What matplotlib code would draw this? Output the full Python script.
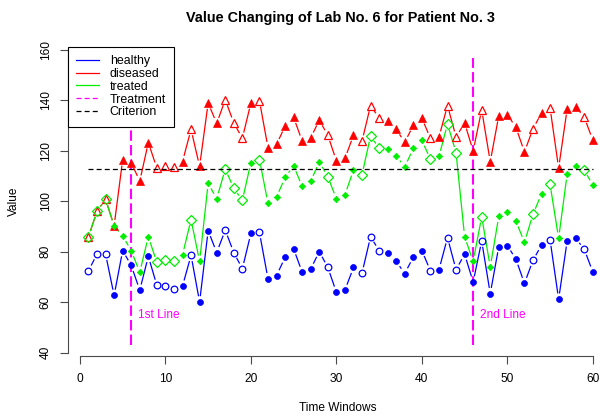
import numpy as np
import matplotlib
matplotlib.use("Agg")
import matplotlib.pyplot as plt
from matplotlib.lines import Line2D

plt.rcParams['font.family'] = ['Liberation Sans', 'DejaVu Sans']

# values
time = list(range(1, 61))
healthy = [72.5, 79.1, 79.1, 62.7, 80.5, 74.6, 64.8, 78.2, 66.7, 66.4,
           65.4, 66.4, 78.6, 60.1, 88.4, 79.7, 88.6, 79.7, 73.3, 87.3,
           87.7, 69.3, 70.6, 77.8, 81.2, 71.9, 73.2, 80.1, 73.8, 64.0,
           64.8, 73.8, 71.6, 86.0, 80.5, 79.5, 76.2, 71.4, 77.9, 80.5,
           72.5, 72.9, 85.6, 72.9, 79.1, 68.0, 84.3, 63.4, 82.1, 82.5,
           77.1, 67.5, 76.6, 82.7, 84.7, 61.2, 84.4, 85.4, 81.0, 72.0]
diseased = [86.0, 96.1, 100.8, 90.3, 116.5, 115.4, 108.0, 123.3, 113.2, 113.9,
            113.7, 115.8, 128.5, 113.9, 139.0, 130.9, 140.3, 131.1, 125.0, 139.0,
            139.9, 121.3, 122.6, 129.8, 133.3, 123.9, 125.2, 132.2, 126.2, 116.1,
            117.0, 126.2, 123.9, 138.0, 133.0, 131.8, 128.5, 123.5, 130.1, 133.0,
            125.0, 125.5, 138.0, 125.5, 131.1, 120.0, 136.3, 115.7, 134.0, 134.4,
            129.4, 119.6, 128.8, 135.0, 137.0, 113.2, 136.7, 137.6, 133.3, 124.3]
treated = [86.0, 96.1, 100.8, 90.3, 86.3, 80.5, 71.9, 86.0, 75.8, 76.9,
           76.2, 78.8, 92.8, 76.2, 107.2, 101.0, 112.8, 105.2, 100.4, 115.4,
           116.6, 99.3, 101.7, 109.5, 114.1, 105.9, 108.0, 115.7, 109.8, 101.0,
           102.6, 112.4, 110.6, 125.9, 121.0, 120.7, 118.0, 113.7, 121.0, 124.2,
           116.7, 117.8, 130.7, 119.3, 86.0, 76.2, 93.9, 74.0, 94.1, 95.6,
           92.2, 83.8, 94.9, 103.0, 106.7, 85.4, 110.9, 114.1, 112.5, 106.3]
# 1 = hollow marker, 0 = solid marker
hollow = [1, 1, 1, 0, 0, 0, 0, 0, 1, 1, 1, 0, 1, 0, 0, 0, 1, 1, 1, 0,
          1, 0, 0, 0, 0, 0, 0, 0, 1, 0, 0, 0, 1, 1, 1, 0, 0, 0, 0, 0,
          1, 0, 1, 1, 0, 0, 1, 0, 0, 0, 0, 0, 1, 0, 1, 0, 0, 0, 1, 0]
treatment_times = [6, 46]
treatment_labels = ["1st Line", "2nd Line"]
criterion = 113

W, H = 600, 417
fig = plt.figure(figsize=(W / 100, H / 100), dpi=100)
# plot region in pixels: left 68.3, right 613, top 47, bottom 356
ax = fig.add_axes([68.3 / W, (H - 356) / H, (613 - 68.3) / W, (356 - 47) / H])
ax.set_xlim(-1.36, 62.36)
ax.set_ylim(38.7, 161.2)
ax.patch.set_alpha(0)

axis_col = '#4a4a4a'
for s in ['top', 'right']:
    ax.spines[s].set_visible(False)
ax.spines['left'].set_bounds(40, 160)
ax.spines['bottom'].set_bounds(0, 60)
for s in ['left', 'bottom']:
    ax.spines[s].set_color(axis_col)
    ax.spines[s].set_linewidth(0.8)
ax.set_xticks(range(0, 61, 10))
ax.set_yticks(range(40, 161, 20))
ax.tick_params(axis='both', direction='out', length=5.5, width=0.8,
               color=axis_col, labelsize=8.6, labelcolor='black')
ax.tick_params(axis='x', pad=7)
ax.tick_params(axis='y', pad=6.5)
for lab in ax.get_yticklabels():
    lab.set_rotation(90)
    lab.set_va('center')

t = np.array(time)
mask = np.array(hollow) == 1


def gapped_line(x, y, color, gap=6.5):
    # R type="b": line segments stop short of the points
    pts = ax.transData.transform(np.column_stack([x, y]))
    inv = ax.transData.inverted()
    for p0, p1 in zip(pts[:-1], pts[1:]):
        d = p1 - p0
        L = np.hypot(d[0], d[1])
        if L <= 2 * gap:
            continue
        u = d / L
        seg = inv.transform(np.array([p0 + u * gap, p1 - u * gap]))
        ax.plot(seg[:, 0], seg[:, 1], color=color, lw=0.9, zorder=2)


# treatment lines
for tt, lab in zip(treatment_times, treatment_labels):
    ax.vlines(tt, 43, 157, colors='#ff00ff', lw=1.5, linestyles=(0, (5, 2)), zorder=1)
    ax.annotate(lab, (tt, 55), xytext=(5, 0), textcoords='offset points',
                color='#ff00ff', fontsize=8.6, ha='left', va='center')

series = [
    (healthy, '#0000ff', ('o', 4.8, 'o', 4.3)),
    (diseased, '#ff0000', ('^', 5.4, '^', 5.2)),
    (treated, '#00ee00', ('D', 4.9, 'D', 3.3)),
]
for vals, col, (m_open, s_open, m_fill, s_fill) in series:
    v = np.array(vals)
    gapped_line(t, v, col)
    ax.plot(t[mask], v[mask], ls='none', marker=m_open, ms=s_open,
            mfc='none', mec=col, mew=0.9, zorder=3, clip_on=False)
    ax.plot(t[~mask], v[~mask], ls='none', marker=m_fill, ms=s_fill,
            mfc=col, mec=col, mew=0.5, zorder=3, clip_on=False)

# criterion
ax.hlines(criterion, time[0], time[-1], colors='black', lw=0.9,
          linestyles=(0, (4, 2.5)), zorder=4)

handles = [
    Line2D([], [], color='#0000ff', lw=0.9),
    Line2D([], [], color='#ff0000', lw=0.9),
    Line2D([], [], color='#00ee00', lw=0.9),
    Line2D([], [], color='#ff00ff', lw=0.9, ls=(0, (4, 2.5))),
    Line2D([], [], color='black', lw=0.9, ls=(0, (4, 2.5))),
]
leg = ax.legend(handles, ['healthy', 'diseased', 'treated', 'Treatment', 'Criterion'],
                loc='upper left', bbox_to_anchor=(0, 1), borderaxespad=0,
                fontsize=8.9, frameon=True, fancybox=False, framealpha=1,
                edgecolor='black', handlelength=1.8, handletextpad=0.9,
                labelspacing=0.07, borderpad=0.65)
leg.get_frame().set_linewidth(0.8)
leg.set_zorder(10)

fig.text(340 / W, 1 - 18 / H, "Value Changing of Lab No. 6 for Patient No. 3",
         ha='center', va='center', fontsize=10.4, fontweight='bold')
fig.text(338 / W, 1 - 408 / H, "Time Windows", ha='center', va='center', fontsize=8.6)
fig.text(14 / W, 1 - 201 / H, "Value", ha='center', va='center', rotation=90, fontsize=8.6)

fig.savefig("out.png", dpi=100)
